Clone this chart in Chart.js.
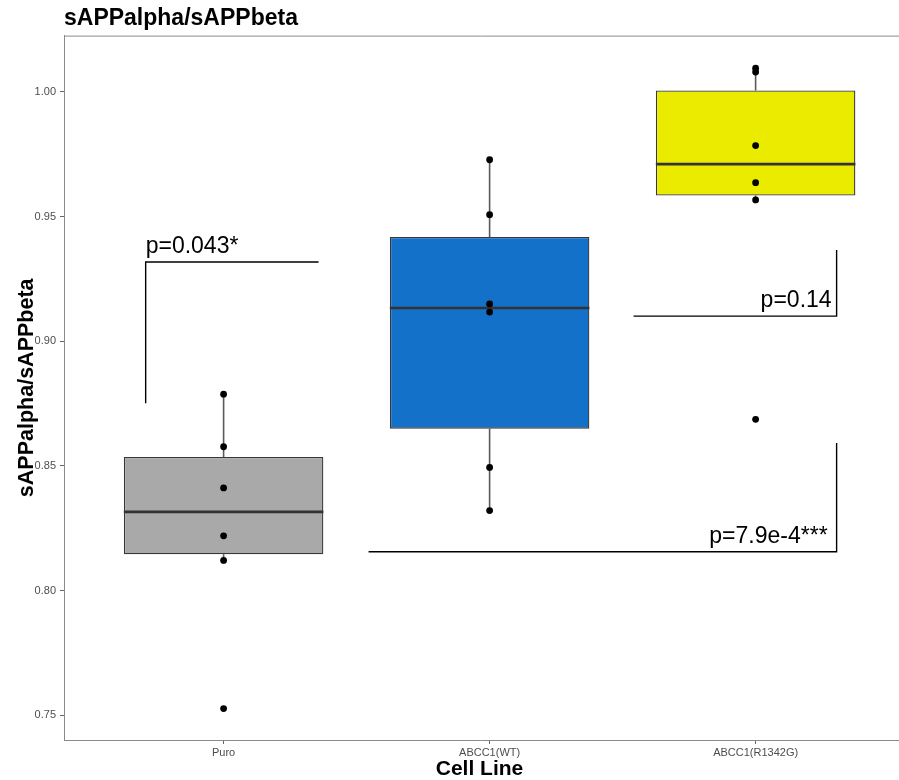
<!DOCTYPE html>
<html>
<head>
<meta charset="utf-8">
<script src="https://cdn.jsdelivr.net/npm/chart.js@4.4.1/dist/chart.umd.min.js"></script>
<style>
  html, body { margin: 0; padding: 0; background: #ffffff; }
  #wrap { width: 899px; height: 780px; }
</style>
</head>
<body>
<div id="wrap"><canvas id="chart" width="899" height="780"></canvas></div>
<script>
// Groups along the x axis
const cellLines = ['Puro', 'ABCC1(WT)', 'ABCC1(R1342G)'];

// Measured sAPPalpha/sAPPbeta ratios per cell line
const puroValues   = [0.8788, 0.8577, 0.8412, 0.8220, 0.8121, 0.7527];
const wtValues     = [0.9728, 0.9508, 0.9150, 0.9117, 0.8494, 0.8321];
const r1342gValues = [1.0095, 1.0080, 0.9785, 0.9636, 0.9567, 0.8687];

// Fill colour of each box
const boxColors = ['#A9A9A9', '#1471C9', '#EBEB00'];

// y-axis tick values
const yTickValues = [0.75, 0.80, 0.85, 0.90, 0.95, 1.00];

// Significance labels and their brackets (in axis units: group index, ratio)
const pLabels = ['p=0.043*', 'p=0.14', 'p=7.9e-4***'];
const bracketPaths = [
  [[-0.293, 0.8752], [-0.293, 0.9318], [0.357, 0.9318]],
  [[1.541, 0.9101], [2.3045, 0.9101], [2.3045, 0.9366]],
  [[0.545, 0.8156], [2.3045, 0.8156], [2.3045, 0.8592]]
];
const labelAnchors = [[-0.293, 0.9354, 'left'], [2.2857, 0.9137, 'right'], [2.2707, 0.8190, 'right']];

const groups = [puroValues, wtValues, r1342gValues];

// Tukey box statistics (quantile type 7, whiskers to 1.5 IQR)
function quantile(sorted, p) {
  const h = (sorted.length - 1) * p;
  const lo = Math.floor(h), hi = Math.ceil(h);
  return sorted[lo] + (h - lo) * (sorted[hi] - sorted[lo]);
}
function boxStats(values) {
  const s = [...values].sort((a, b) => a - b);
  const q1 = quantile(s, 0.25), med = quantile(s, 0.5), q3 = quantile(s, 0.75);
  const iqr = q3 - q1;
  const inside = s.filter(v => v >= q1 - 1.5 * iqr && v <= q3 + 1.5 * iqr);
  return { q1, med, q3, lo: inside[0], hi: inside[inside.length - 1] };
}
const stats = groups.map(boxStats);

const halfBox = 0.375;

const whiskerData = [];
stats.forEach((s, i) => {
  whiskerData.push({ x: i, y: s.lo }, { x: i, y: s.q1 }, { x: i, y: null });
  whiskerData.push({ x: i, y: s.q3 }, { x: i, y: s.hi }, { x: i, y: null });
});
const medianData = [];
stats.forEach((s, i) => {
  medianData.push({ x: i - halfBox, y: s.med }, { x: i + halfBox, y: s.med }, { x: i, y: null });
});
const pointData = [];
groups.forEach((vals, i) => vals.forEach(v => pointData.push({ x: i, y: v })));

const bracketDatasets = bracketPaths.map(path => ({
  type: 'line',
  data: path.map(([x, y]) => ({ x, y })),
  borderColor: '#000000',
  borderWidth: 1.4,
  pointRadius: 0,
  fill: false,
  tension: 0,
  order: 2
}));

// Top and bottom edges of the panel (running to the canvas edge) and the p-value texts
const panelAndLabels = {
  id: 'panelAndLabels',
  afterDatasetsDraw(chart) {
    const { ctx, chartArea, scales } = chart;
    ctx.save();
    ctx.strokeStyle = '#8a8a8a';
    ctx.lineWidth = 1;
    ctx.beginPath();
    ctx.moveTo(chartArea.left, chartArea.top + 0.5);
    ctx.lineTo(chart.width, chartArea.top + 0.5);
    ctx.moveTo(chartArea.left, Math.round(chartArea.bottom) + 0.5);
    ctx.lineTo(chart.width, Math.round(chartArea.bottom) + 0.5);
    ctx.stroke();
    ctx.fillStyle = '#000000';
    ctx.font = '23px "Liberation Sans", Arial, sans-serif';
    ctx.textBaseline = 'alphabetic';
    labelAnchors.forEach(([x, y, align], i) => {
      ctx.textAlign = align;
      ctx.fillText(pLabels[i], scales.x.getPixelForValue(x), scales.y.getPixelForValue(y));
    });
    ctx.restore();
  }
};

new Chart(document.getElementById('chart'), {
  type: 'scatter',
  data: {
    datasets: [
      {
        type: 'line',
        data: whiskerData,
        borderColor: '#5a5a5a',
        borderWidth: 1.6,
        pointRadius: 0,
        spanGaps: false,
        fill: false,
        order: 6
      },
      {
        type: 'bar',
        data: stats.map((s, i) => ({ x: i, y: [s.q1, s.q3] })),
        backgroundColor: boxColors,
        borderColor: '#383838',
        borderWidth: 1.3,
        borderSkipped: false,
        categoryPercentage: 1.0,
        barPercentage: 0.75,
        order: 5
      },
      {
        type: 'line',
        data: medianData,
        borderColor: '#333333',
        borderWidth: 2.6,
        pointRadius: 0,
        spanGaps: false,
        fill: false,
        order: 4
      },
      ...bracketDatasets,
      {
        type: 'scatter',
        data: pointData,
        pointRadius: 3.4,
        pointBackgroundColor: '#000000',
        pointBorderWidth: 0,
        order: 1
      }
    ]
  },
  options: {
    responsive: false,
    animation: false,
    devicePixelRatio: 1,
    layout: { padding: 0 },
    plugins: {
      legend: { display: false },
      tooltip: { enabled: false },
      title: {
        display: true,
        text: 'sAPPalpha/sAPPbeta',
        align: 'start',
        fullSize: false,
        color: '#000000',
        font: { family: '"Liberation Sans", Arial, sans-serif', size: 23, weight: 'bold', lineHeight: 1.2 },
        padding: { top: 5, bottom: 3 }
      }
    },
    scales: {
      x: {
        type: 'linear',
        offset: false,
        min: -0.6,
        max: 2.524,
        afterBuildTicks(scale) { scale.ticks = cellLines.map((_, i) => ({ value: i })); },
        afterFit(scale) { scale.height = 40; },
        ticks: {
          autoSkip: false,
          maxRotation: 0,
          padding: 2,
          color: '#4d4d4d',
          font: { family: '"Liberation Sans", Arial, sans-serif', size: 11 },
          callback: (v) => cellLines[v]
        },
        grid: { display: true, offset: false, drawOnChartArea: false, drawTicks: true, tickLength: 4, color: '#666666' },
        border: { display: false },
        title: {
          display: true,
          text: 'Cell Line',
          color: '#000000',
          font: { family: '"Liberation Sans", Arial, sans-serif', size: 21, weight: 'bold', lineHeight: 1.0 },
          padding: { top: 0, bottom: 0 }
        }
      },
      y: {
        type: 'linear',
        min: 0.7401,
        max: 1.0226,
        afterBuildTicks(scale) { scale.ticks = yTickValues.map(v => ({ value: v })); },
        afterFit(scale) { scale.width = 64; },
        ticks: {
          padding: 4,
          color: '#4d4d4d',
          font: { family: '"Liberation Sans", Arial, sans-serif', size: 11 },
          callback: (v) => v.toFixed(2)
        },
        grid: { display: true, drawOnChartArea: false, drawTicks: true, tickLength: 4, color: '#666666' },
        border: { display: true, color: '#8a8a8a', width: 1 },
        title: {
          display: true,
          text: 'sAPPalpha/sAPPbeta',
          color: '#000000',
          font: { family: '"Liberation Sans", Arial, sans-serif', size: 21.5, weight: 'bold', lineHeight: 1.2 },
          padding: { top: 14, bottom: 0 }
        }
      }
    }
  },
  plugins: [panelAndLabels]
});
</script>
</body>
</html>
